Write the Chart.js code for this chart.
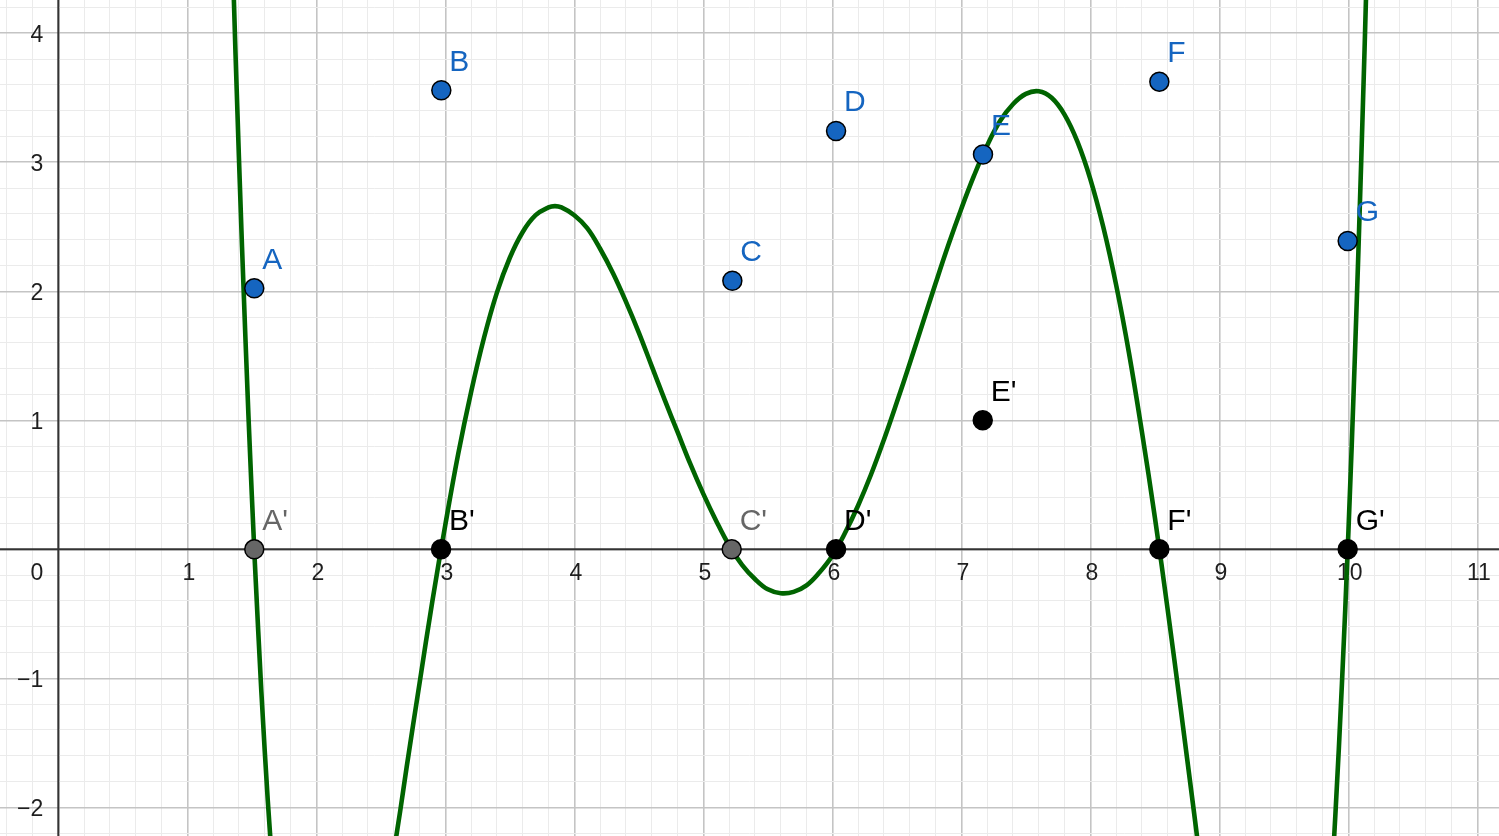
<!DOCTYPE html>
<html>
<head>
<meta charset="utf-8">
<script src="https://cdn.jsdelivr.net/npm/chart.js@4.4.0/dist/chart.umd.min.js"></script>
<style>
html,body{margin:0;padding:0;background:#ffffff;overflow:hidden}
canvas{display:block}
</style>
</head>
<body>
<canvas id="c" width="1499" height="836"></canvas>
<script>
// ---------------- DATA ----------------
const pointNames = ["A", "B", "C", "D", "E", "F", "G"];
const pointX = [1.519, 2.969, 5.225, 6.029, 7.168, 8.535, 9.995];
const pointY = [2.023, 3.558, 2.082, 3.243, 3.06, 3.625, 2.39];

const primeNames = ["A'", "B'", "C'", "D'", "E'", "F'", "G'"];
const primeX = [1.519, 2.967, 5.22, 6.029, 7.166, 8.535, 9.995];
const primeY = [0, 0, 0, 0, 1, 0, 0];

const curveX = [1.30, 1.35, 1.40, 1.45, 1.50, 1.55, 1.60, 1.65, 1.70, 2.00, 2.30, 2.55, 2.60, 2.65, 2.70,
  2.80, 2.90, 3.00, 3.10, 3.20, 3.30, 3.40, 3.50, 3.60, 3.70, 3.80, 3.85, 3.90, 4.00, 4.10, 4.20, 4.30,
  4.40, 4.50, 4.60, 4.70, 4.80, 4.90, 5.00, 5.10, 5.20, 5.30, 5.40, 5.50, 5.60, 5.70, 5.80, 5.90, 6.00,
  6.10, 6.20, 6.30, 6.40, 6.50, 6.60, 6.70, 6.80, 6.90, 7.00, 7.10, 7.20, 7.30, 7.40, 7.50, 7.60, 7.70,
  7.80, 7.90, 8.00, 8.10, 8.20, 8.30, 8.40, 8.50, 8.60, 8.70, 8.80, 8.90, 9.20, 9.50, 9.80, 9.85, 9.90,
  9.95, 10.00, 10.05, 10.10, 10.15, 10.20];
const curveY = [6.41, 4.62, 3.04, 1.65, 0.42, -0.64, -1.56, -2.33, -2.98, -4.74, -4.09, -2.68, -2.35, -2.03, -1.69,
  -1.04, -0.40, 0.19, 0.74, 1.22, 1.64, 1.99, 2.26, 2.46, 2.59, 2.65, 2.66, 2.65, 2.59, 2.49, 2.33, 2.14,
  1.92, 1.68, 1.42, 1.16, 0.91, 0.66, 0.43, 0.22, 0.03, -0.12, -0.23, -0.31, -0.34, -0.33, -0.28, -0.18, -0.05,
  0.13, 0.34, 0.58, 0.85, 1.14, 1.44, 1.75, 2.06, 2.36, 2.64, 2.90, 3.13, 3.32, 3.45, 3.53, 3.55, 3.50,
  3.37, 3.16, 2.87, 2.50, 2.05, 1.52, 0.91, 0.25, -0.47, -1.23, -2.01, -2.78, -4.81, -5.57, -3.63, -2.91, -2.05,
  -1.05, 0.12, 1.47, 3.01, 4.74, 6.70];

const xTickValues = [1, 2, 3, 4, 5, 6, 7, 8, 9, 10, 11];
const xTickLabels = ["1", "2", "3", "4", "5", "6", "7", "8", "9", "10", "11"];
const yTickValues = [-2, -1, 1, 2, 3, 4];
const yTickLabels = ["\u22122", "\u22121", "1", "2", "3", "4"];
const originLabel = "0";

const xMin = -0.452, xMax = 11.168;
const yMin = -2.222, yMax = 4.258;

// ---------------- STYLE ----------------
const BLUE = "#1565C0";
const primeFill = ["#666666", "#000000", "#666666", "#000000", "#000000", "#000000", "#000000"];
const primeLabelColor = ["#666666", "#000000", "#666666", "#000000", "#000000", "#000000", "#000000"];
const FONT = '"Liberation Sans", Arial, Helvetica, sans-serif';
const MAJOR = "#c4c4c4";
const MINOR = "#ebebeb";

function gridColor(ctx) {
  const v = ctx.tick ? ctx.tick.value : 0;
  return Math.abs(v - Math.round(v)) < 1e-6 ? MAJOR : MINOR;
}
function gridWidth(ctx) {
  const v = ctx.tick ? ctx.tick.value : 0;
  return Math.abs(v - Math.round(v)) < 1e-6 ? 1.6 : 1;
}

const axesPlugin = {
  id: "axesAndTicks",
  beforeDatasetsDraw(chart) {
    const { ctx, chartArea, scales } = chart;
    const sx = scales.x, sy = scales.y;
    const x0 = sx.getPixelForValue(0), y0 = sy.getPixelForValue(0);
    ctx.save();
    ctx.strokeStyle = "#333333";
    ctx.lineWidth = 2;
    ctx.beginPath();
    ctx.moveTo(chartArea.left, y0); ctx.lineTo(chartArea.right, y0);
    ctx.moveTo(x0, chartArea.top); ctx.lineTo(x0, chartArea.bottom);
    ctx.stroke();

    ctx.fillStyle = "#1e1e1e";
    ctx.font = "23px " + FONT;
    ctx.textBaseline = "alphabetic";
    ctx.textAlign = "center";
    xTickValues.forEach((v, i) => {
      ctx.fillText(xTickLabels[i], sx.getPixelForValue(v) + 1.5, y0 + 30.5);
    });
    ctx.textAlign = "right";
    yTickValues.forEach((v, i) => {
      ctx.fillText(yTickLabels[i], x0 - 15, sy.getPixelForValue(v) + 9);
    });
    ctx.fillText(originLabel, x0 - 15, y0 + 30.5);
    ctx.restore();
  }
};

const labelPlugin = {
  id: "pointLabels",
  afterDatasetsDraw(chart) {
    const { ctx } = chart;
    ctx.save();
    ctx.font = "30px " + FONT;
    ctx.textAlign = "left";
    ctx.textBaseline = "alphabetic";
    chart.data.datasets.forEach((ds, di) => {
      if (!ds.pointNames) return;
      const meta = chart.getDatasetMeta(di);
      meta.data.forEach((el, j) => {
        ctx.fillStyle = ds.labelColors[j];
        ctx.fillText(ds.pointNames[j], el.x + 8, el.y - 19.5);
      });
    });
    ctx.restore();
  }
};

new Chart(document.getElementById("c"), {
  type: "scatter",
  data: {
    datasets: [
      {
        label: "f",
        data: curveX.map((x, i) => ({ x: x, y: curveY[i] })),
        showLine: true,
        borderColor: "#006400",
        borderWidth: 4.6,
        pointRadius: 0,
        pointHoverRadius: 0,
        tension: 0.4,
        borderCapStyle: "round",
        borderJoinStyle: "round",
        fill: false,
        order: 3
      },
      {
        label: "primes",
        data: primeX.map((x, i) => ({ x: x, y: primeY[i] })),
        pointRadius: 9.5,
        pointHoverRadius: 9.5,
        backgroundColor: primeFill,
        borderColor: "#000000",
        borderWidth: 1.5,
        pointNames: primeNames,
        labelColors: primeLabelColor,
        order: 2
      },
      {
        label: "points",
        data: pointX.map((x, i) => ({ x: x, y: pointY[i] })),
        pointRadius: 9.5,
        pointHoverRadius: 9.5,
        backgroundColor: BLUE,
        borderColor: "#000000",
        borderWidth: 1.5,
        pointNames: pointNames,
        labelColors: pointNames.map(() => BLUE),
        order: 1
      }
    ]
  },
  options: {
    responsive: false,
    animation: false,
    events: [],
    layout: { padding: 0, autoPadding: false },
    elements: { line: { capBezierPoints: false } },
    plugins: { legend: { display: false }, tooltip: { enabled: false } },
    scales: {
      x: {
        type: "linear",
        min: xMin, max: xMax,
        ticks: { display: false, stepSize: 0.2, includeBounds: false },
        grid: { color: gridColor, lineWidth: gridWidth, drawTicks: false },
        border: { display: false }
      },
      y: {
        type: "linear",
        min: yMin, max: yMax,
        ticks: { display: false, stepSize: 0.2, includeBounds: false },
        grid: { color: gridColor, lineWidth: gridWidth, drawTicks: false },
        border: { display: false }
      }
    }
  },
  plugins: [axesPlugin, labelPlugin]
});
</script>
</body>
</html>
